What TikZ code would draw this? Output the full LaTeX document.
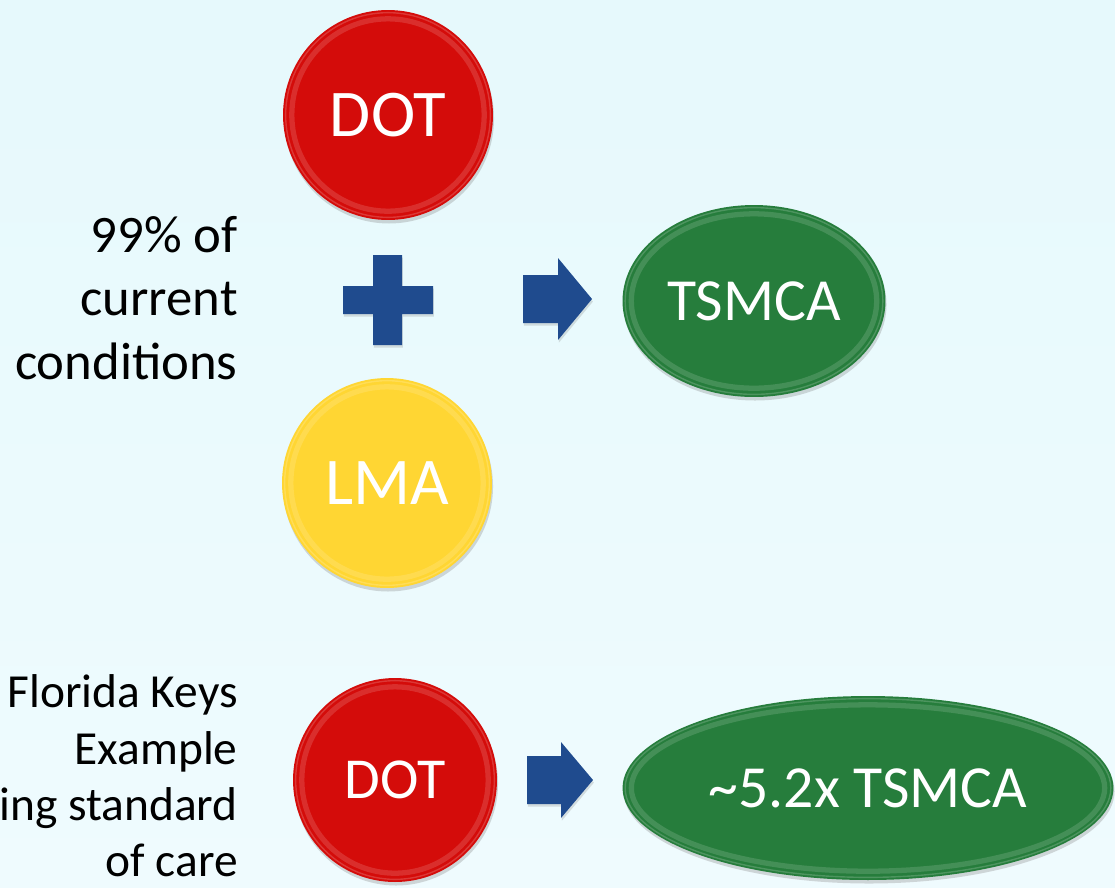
\documentclass[tikz,border=0pt]{standalone}
\usepackage{fontspec}
\setmainfont{Carlito}
\usetikzlibrary{shapes.geometric,shadows,calc}

\definecolor{dotred}{HTML}{D40C0A}
\definecolor{lmayellow}{HTML}{FFD633}
\definecolor{tsmgreen}{HTML}{267D3C}
\definecolor{pointblue}{HTML}{1F4B8E}
\definecolor{papertop}{HTML}{E6F9FC}
\definecolor{paperbottom}{HTML}{EFFBFE}

\tikzset{
  % light ring just inside the rim
  bevel/.style={path picture={
      \draw[white,opacity=0.14,line width=3pt]
        let \p1=($(path picture bounding box.north east)-(path picture bounding box.center)$)
        in (path picture bounding box.center) ellipse ({\x1-5pt} and {\y1-5pt});
      \draw[white,opacity=0.18,line width=0.8pt]
        let \p1=($(path picture bounding box.north east)-(path picture bounding box.center)$)
        in (path picture bounding box.center) ellipse ({\x1-1.5pt} and {\y1-1.5pt});}},
  softshadow/.style={drop shadow={opacity=0.3,shadow xshift=0.6pt,shadow yshift=-2pt}},
  disc/.style={circle,inner sep=0pt,text=white,softshadow,bevel},
  oval/.style={ellipse,inner sep=0pt,text=white,softshadow,bevel},
  sign/.style={fill=pointblue,drop shadow={opacity=0.25,shadow xshift=0.5pt,shadow yshift=-1.5pt}},
  sidenote/.style={align=right,inner sep=0pt,anchor=east}
}

\begin{document}
\begin{tikzpicture}[x=0.02cm,y=-0.02cm]
  \shade[top color=papertop,bottom color=paperbottom] (0,0) rectangle (1115,887);
  \useasboundingbox (0,0) rectangle (1115,887);

  % current conditions
  \node[sidenote,font=\fontsize{30}{36}\selectfont] (current) at (238,298)
    {99\% of\\current\\conditions};
  \node[disc,fill=dotred,minimum size=4.2cm,font=\fontsize{38}{40}\selectfont] (dot) at (388,115) {DOT};
  \node[disc,fill=lmayellow,minimum size=4.2cm,font=\fontsize{38}{40}\selectfont] (lma) at (387,483) {LMA};
  \coordinate (plus) at (388,300);
  \fill[sign] ([shift={(-45,-14)}]plus) -- ++(30,0) -- ++(0,-31) -- ++(29,0) -- ++(0,31)
    -- ++(31,0) -- ++(0,28) -- ++(-31,0) -- ++(0,31) -- ++(-29,0) -- ++(0,-31)
    -- ++(-30,0) -- cycle;
  \coordinate (arrowtop) at (523,299);
  \fill[sign] ([shift={(0,-24)}]arrowtop) -- ++(35,0) -- ++(0,-17) -- ++(34,41)
    -- ++(-34,41) -- ++(0,-17) -- ++(-35,0) -- cycle;
  \node[oval,fill=tsmgreen,minimum width=5.26cm,minimum height=3.84cm,
    font=\fontsize{34}{36}\selectfont] (tsmca) at (754,301) {TSMCA};

  % Florida Keys
  \node[sidenote,font=\fontsize{27}{32}\selectfont] (keys) at (238,776)
    {Florida Keys\\Example\\ing standard\\of care};
  \node[disc,fill=dotred,minimum size=4.08cm,font=\fontsize{33}{35}\selectfont] (dotkeys) at (395,780) {DOT};
  \coordinate (arrowkeys) at (527,780);
  \fill[sign] ([shift={(0,-24)}]arrowkeys) -- ++(34,0) -- ++(0,-14) -- ++(32,38)
    -- ++(-32,38) -- ++(0,-14) -- ++(-34,0) -- cycle;
  \node[oval,fill=tsmgreen,minimum width=9.82cm,minimum height=3.68cm,
    font=\fontsize{34}{36}\selectfont] (multiple) at (868,788) {\textasciitilde5.2x TSMCA};
\end{tikzpicture}
\end{document}
